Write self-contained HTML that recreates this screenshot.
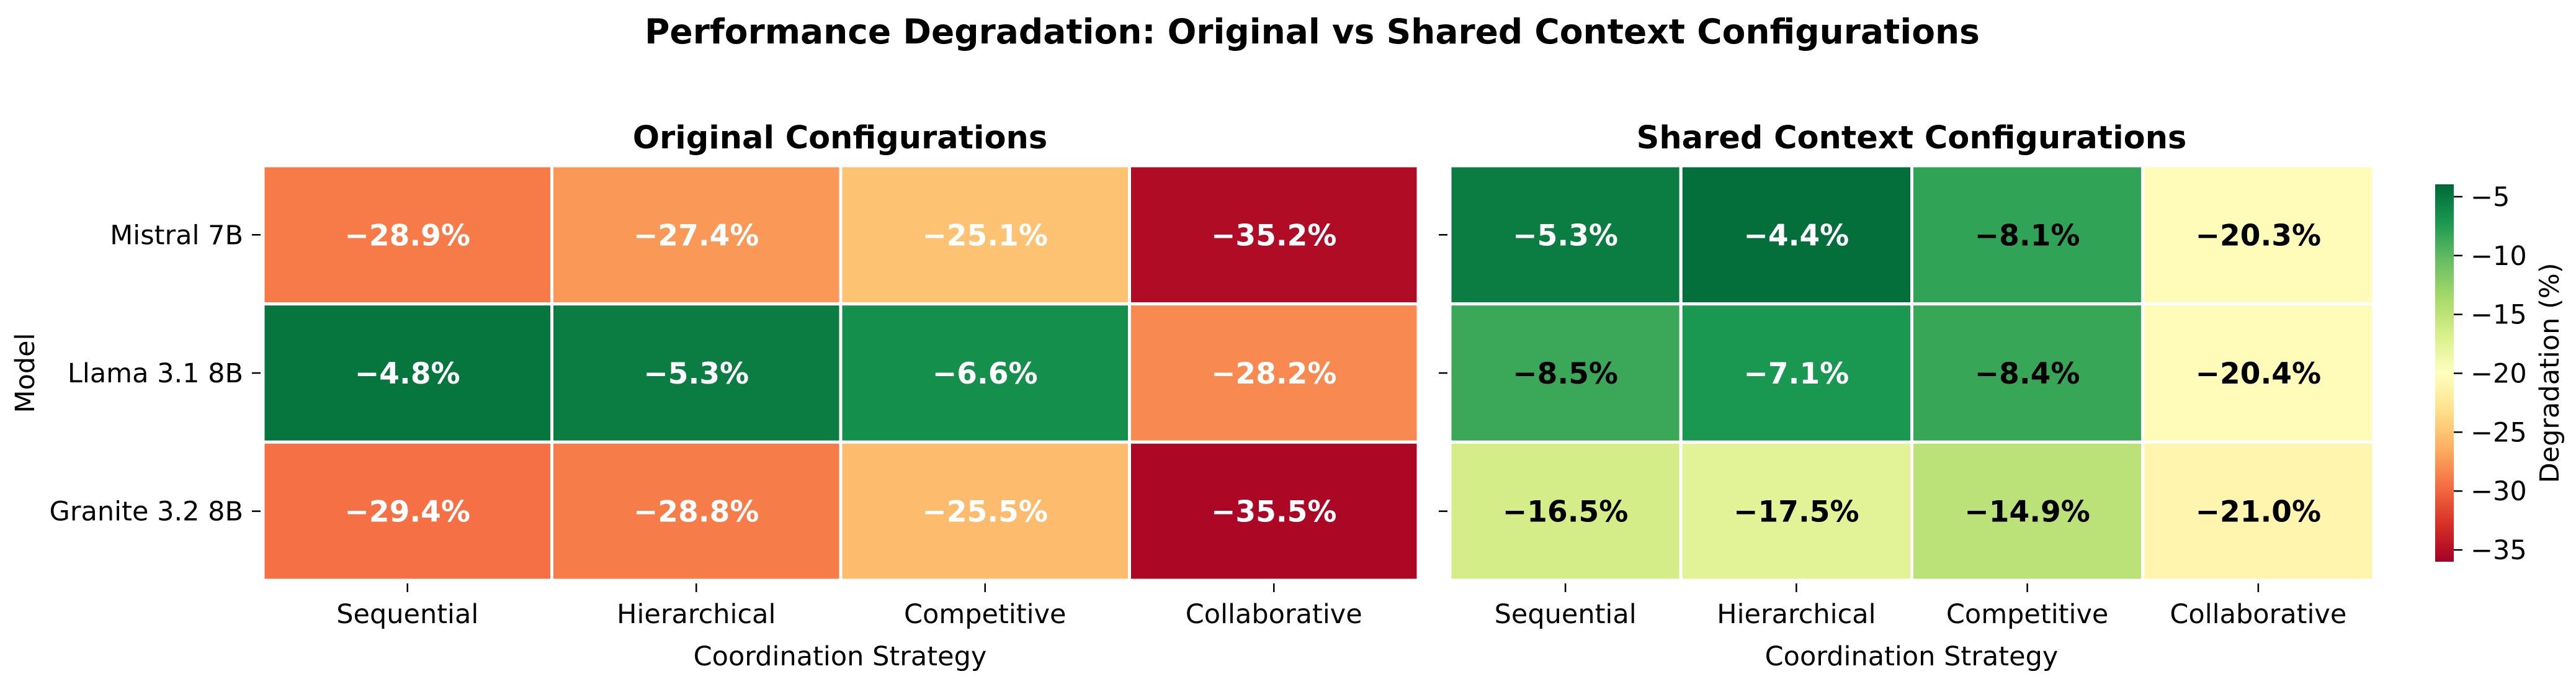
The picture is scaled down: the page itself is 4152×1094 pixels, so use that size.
<!DOCTYPE html>
<html><head><meta charset="utf-8">
<style>
html,body{margin:0;padding:0;background:#fff;}
svg{display:block;font-family:"DejaVu Sans","Liberation Sans",sans-serif;}
</style></head>
<body>
<svg id="chart" width="4152" height="1094" viewBox="0 0 4152 1094">
<defs>
<linearGradient id="cbgrad" x1="0" y1="1" x2="0" y2="0">
<stop offset="0" stop-color="#a50026"/><stop offset="0.1" stop-color="#d73027"/><stop offset="0.2" stop-color="#f46d43"/><stop offset="0.3" stop-color="#fdae61"/><stop offset="0.4" stop-color="#fee08b"/><stop offset="0.5" stop-color="#ffffbf"/><stop offset="0.6" stop-color="#d9ef8b"/><stop offset="0.7" stop-color="#a6d96a"/><stop offset="0.8" stop-color="#66bd63"/><stop offset="0.9" stop-color="#1a9850"/><stop offset="1" stop-color="#006837"/>
</linearGradient>
</defs>
<text x="2115" y="70" text-anchor="middle" font-size="55" font-weight="bold">Performance Degradation: Original vs Shared Context Configurations</text>
<text x="1354" y="239" text-anchor="middle" font-size="51" font-weight="bold">Original Configurations</text>
<text x="3081" y="239" text-anchor="middle" font-size="51" font-weight="bold">Shared Context Configurations</text>
<text transform="translate(55,601) rotate(-90)" text-anchor="middle" font-size="43">Model</text>
<text x="1354" y="1072" text-anchor="middle" font-size="43">Coordination Strategy</text>
<text x="3081" y="1072" text-anchor="middle" font-size="43">Coordination Strategy</text>
<rect x="3925" y="297" width="30" height="608" fill="url(#cbgrad)"/>
<text transform="translate(4124,601) rotate(-90)" text-anchor="middle" font-size="43">Degradation (%)</text>
<g id="layer"></g>
</svg>
<script>
const models = ["Mistral 7B", "Llama 3.1 8B", "Granite 3.2 8B"];
const strategies = ["Sequential", "Hierarchical", "Competitive", "Collaborative"];
const originalValues = [
  [-28.9, -27.4, -25.1, -35.2],
  [-4.8, -5.3, -6.6, -28.2],
  [-29.4, -28.8, -25.5, -35.5]
];
const sharedValues = [
  [-5.3, -4.4, -8.1, -20.3],
  [-8.5, -7.1, -8.4, -20.4],
  [-16.5, -17.5, -14.9, -21.0]
];
const colorbarTicks = [-5, -10, -15, -20, -25, -30, -35];
const vmin = -36.0, vmax = -3.95;

const NS = "http://www.w3.org/2000/svg";
const layer = document.getElementById("layer");
const stops = ["#a50026","#d73027","#f46d43","#fdae61","#fee08b","#ffffbf","#d9ef8b","#a6d96a","#66bd63","#1a9850","#006837"];
function hex(h){return [parseInt(h.substr(1,2),16),parseInt(h.substr(3,2),16),parseInt(h.substr(5,2),16)];}
function cmap(v){
  let t=(v-vmin)/(vmax-vmin); t=Math.max(0,Math.min(1,t));
  const p=t*10, i=Math.min(9,Math.floor(p)), f=p-i;
  const a=hex(stops[i]), b=hex(stops[i+1]);
  return "rgb("+a.map((c,k)=>Math.round(c+(b[k]-c)*f)).join(",")+")";
}
function el(tag, attrs, text){
  const e=document.createElementNS(NS,tag);
  for(const k in attrs) e.setAttribute(k,attrs[k]);
  if(text!==undefined) e.textContent=text;
  layer.appendChild(e); return e;
}
const top0=267, bottom0=935;
const rowH=(bottom0-top0)/models.length;
function yPos(i){return top0+i*rowH;}
function fmt(v){return "\u2212"+Math.abs(v).toFixed(1)+"%";}

function panel(values, x0, x1, key, showLabels, whiteFn){
  const colW=(x1-x0)/strategies.length;
  values.forEach((row,i)=>{
    row.forEach((v,j)=>{
      const r=el("rect",{x:x0+j*colW,y:yPos(i),width:colW,height:rowH,fill:cmap(v),stroke:"#fff","stroke-width":5});
      
      
      const t=el("text",{x:x0+(j+0.5)*colW,y:yPos(i)+rowH/2+17,"text-anchor":"middle","font-size":47,"font-weight":"bold",fill:whiteFn(v)?"#fff":"#000"},fmt(v));
      
      
    });
  });
  strategies.forEach((s,j)=>{
    const cx=x0+(j+0.5)*colW;
    const tk=el("line",{x1:cx,x2:cx,y1:940,y2:954,stroke:"#000","stroke-width":2.5});
    
    
    const lb=el("text",{x:cx,y:1004,"text-anchor":"middle","font-size":43},s);
    
    
  });
  models.forEach((m,i)=>{
    const cy=yPos(i)+rowH/2;
    const tk=el("line",{x1:x0-18,x2:x0-4,y1:cy,y2:cy,stroke:"#000","stroke-width":2.5});
    
    
    if(showLabels){
      const lb=el("text",{x:x0-32,y:cy+15,"text-anchor":"end","font-size":43},m);
      
      
    }
  });
}
panel(originalValues, 424, 2286, "original", true, v=>true);
panel(sharedValues, 2337, 3826, "shared", false, v=>v>-7.5);

const cbTop=297, cbBot=905;
function cbY(v){return cbBot-(v-vmin)/(vmax-vmin)*(cbBot-cbTop);}
colorbarTicks.forEach((v,k)=>{
  const y=cbY(v);
  const tk=el("line",{x1:3955,x2:3969,y1:y,y2:y,stroke:"#000","stroke-width":2.5});
  
  
  const lb=el("text",{x:3982,y:y+15,"font-size":43},"\u2212"+Math.abs(v));
  
  
});
</script>
</body></html>
